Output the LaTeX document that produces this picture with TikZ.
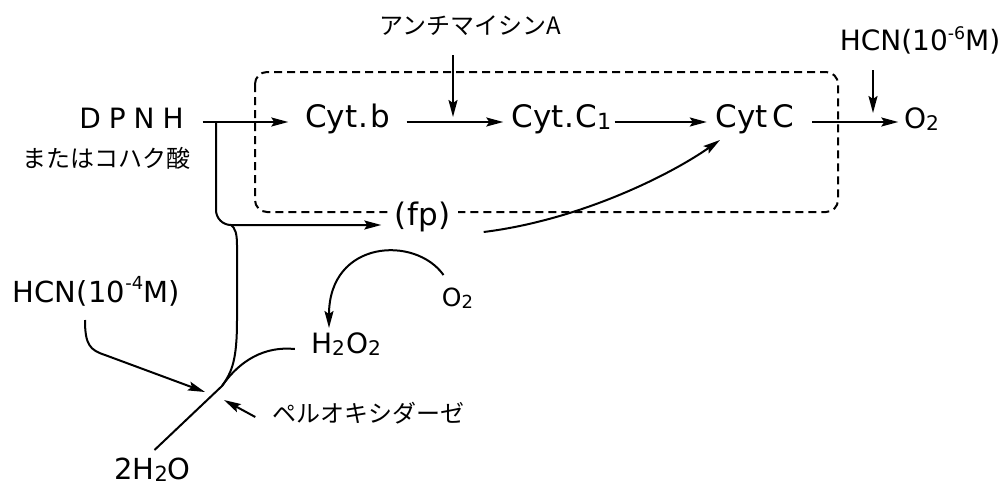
\documentclass[tikz,border=0pt]{standalone}
\usepackage{fontspec}
\usepackage{graphicx}
\setmainfont{Noto Sans CJK JP}
\newfontfamily\latf{DejaVu Sans}
\newcommand\lowsub[1]{\raisebox{-0.08em}{\scalebox{0.72}{#1}}}
\newcommand\highsup[1]{\raisebox{0.42em}{\scalebox{0.62}{#1}}}
\usetikzlibrary{arrows.meta}
\begin{document}
\begin{tikzpicture}[x=1pt,y=-1pt,
  lbl/.style={inner sep=0pt, align=center, text height=20pt, text depth=6pt},
  jp/.style={lbl, font=\fontsize{24}{26}\selectfont},
  lat/.style={lbl, font=\latf\fontsize{28}{30}\selectfont},
  cyt/.style={lbl, font=\latf\fontsize{31}{33}\selectfont},
  sm/.style={lbl, font=\latf\fontsize{28}{30}\selectfont},
  arr/.style={line width=2pt,-{Stealth[length=17pt,width=9pt,inset=3pt]}},
  ln/.style={line width=2pt},
  box/.style={line width=2pt, dash pattern=on 8pt off 5pt, rounded corners=12pt}]
\useasboundingbox (0,0) rectangle (1006,487);

% dashed box
\draw[box] (255,72) rectangle (838,212);

% nodes
\node[lat, text width=108pt] (dpnh) at (131.5,121) {D\hspace{8pt}P\hspace{8pt}N\hspace{8pt}H};
\node[jp, text width=170pt] (succ) at (107,160) {またはコハク酸};
\node[cyt, text width=92pt] (cytb) at (347.5,120) {Cyt\hspace{1pt}.\hspace{2pt}b};
\node[cyt, text width=100pt] (cytc1) at (561.5,120) {Cyt\hspace{1pt}.\hspace{1pt}C\lowsub{1}};
\node[cyt, text width=88pt] (cytc) at (755,120) {Cyt\hspace{5pt}C};
\node[lat, text width=42pt] (o2r) at (921.5,121) {O\lowsub{2}};
\node[jp, text width=182pt] (anti) at (470.5,28) {アンチマイシンA};
\node[sm, text width=176pt] (hcn6) at (920,44) {HCN(10\highsup{-6}M)};
\node[cyt, text width=62pt, fill=white, inner xsep=4pt] (fp) at (422.5,218) {(\hspace{1pt}fp\hspace{1pt})};
\node[lbl, font=\latf\fontsize{25}{27}\selectfont, text width=34pt] (o2b) at (457.5,299) {O\lowsub{2}};
\node[sm, text width=76pt] (h2o2) at (346,346) {H\lowsub{2}\hspace{1pt}O\lowsub{2}};
\node[lbl, font=\latf\fontsize{29}{31}\selectfont, text width=180pt] (hcn4) at (96,295) {HCN(\hspace{1pt}10\highsup{-4}M)};
\node[jp, text width=190pt] (perox) at (367.5,415) {ペルオキシダーゼ};
\node[lbl, font=\latf\fontsize{29}{31}\selectfont, text width=90pt] (h2o) at (152.5,472) {2H\lowsub{2}O};

% junction coordinates
\coordinate (br) at (216,122);
\coordinate (jn) at (222,386);
\coordinate (antiT) at (453,117);
\coordinate (hcnT) at (873,113);

% main chain
\draw[arr, shorten <=17pt, shorten >=13pt] (dpnh.east |- 0,122) -- (cytb.west |- 0,122);
\draw[arr, shorten <=13pt, shorten >=8pt] (cytb.east |- 0,122) -- (cytc1.west |- 0,122);
\draw[arr, shorten <=3pt, shorten >=4pt] (cytc1.east |- 0,122) -- (cytc.west |- 0,122);
\draw[arr, shorten <=13pt, shorten >=2pt] (cytc.east |- 0,122) -- (o2r.west |- 0,122);

% inhibitors
\draw[arr, shorten <=14pt] (anti.south -| antiT) -- (antiT);
\draw[arr, shorten <=13pt] (hcn6.south -| hcnT) -- (hcnT);

% branch to fp
\draw[arr, rounded corners=15pt, shorten >=6pt] (br) -- (216,225) -- (fp.west |- 0,225);
\draw[arr] ([shift={(26,14)}]fp.east) .. controls (580,220) and (670,175) .. ([shift={(-35,20)}]cytc.center);

% branch down to peroxidase junction
\draw[ln] (231,225) .. controls (235,228) and (237,233) .. (237,245) -- (237,320)
  .. controls (237,360) and (232,372) .. (jn);
% H2O2 -> 2H2O
\draw[ln] ([xshift=-13pt,yshift=-3pt]h2o2.west) .. controls (265,346) and (240,360) .. (jn)
  -- ([shift={(2,-22)}]h2o.center);
% O2 -> H2O2
\draw[arr] ([shift={(-14,-24)}]o2b.center) .. controls (415,235) and (329,240) .. ([shift={(-17,-18)}]h2o2.center);
% HCN 10^-4 -> junction
\draw[arr] ([shift={(-11,25)}]hcn4.center) .. controls (85,345) and (90,350) .. (105,355) -- (205,392);
% peroxidase arrow
\draw[arr] ([xshift=-17pt,yshift=-2pt]perox.west) -- (224,400);
\end{tikzpicture}
\end{document}
